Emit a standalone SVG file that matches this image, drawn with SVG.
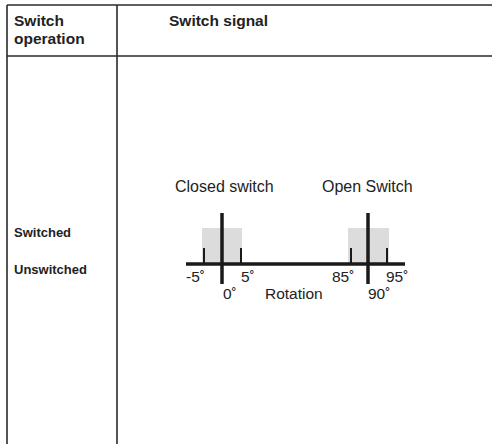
<svg xmlns="http://www.w3.org/2000/svg" width="492" height="444" viewBox="0 0 492 444">
<style>
.grid{stroke:#2a2a2a;stroke-width:1.6;fill:none}
.hd{font-family:"Liberation Sans",Arial,sans-serif;font-weight:bold;font-size:15.5px;fill:#222}
.lb{font-family:"Liberation Sans",Arial,sans-serif;font-weight:bold;font-size:13px;fill:#222}
.tx{font-family:"Liberation Sans",Arial,sans-serif;font-size:15.5px;fill:#222}
.tt{font-family:"Liberation Sans",Arial,sans-serif;font-size:16px;fill:#222}
.bar{stroke:#1a1a1a;stroke-width:3.5;fill:none}
.tick{stroke:#1a1a1a;stroke-width:2;fill:none}
.win{fill:#dcdcdc}
</style>
<rect width="492" height="444" fill="#fff"/>
<g id="table">
<line class="grid" x1="7" y1="5" x2="492" y2="5"/>
<line class="grid" x1="7" y1="56" x2="492" y2="56"/>
<line class="grid" x1="7" y1="5" x2="7" y2="444"/>
<line class="grid" x1="117" y1="5" x2="117" y2="444"/>
<text class="hd" x="14" y="25.5">Switch</text>
<text class="hd" x="14" y="43.5">operation</text>
<text class="hd" x="169" y="25.5">Switch signal</text>
<text class="lb" x="14" y="237">Switched</text>
<text class="lb" x="14" y="274">Unswitched</text>
</g>
<g id="closed-window">
<rect class="win" x="202" y="228" width="40" height="36"/>
<line class="tick" x1="204" y1="248" x2="204" y2="264"/>
<line class="tick" x1="241" y1="248" x2="241" y2="264"/>
<line class="bar" x1="222" y1="213" x2="222" y2="284"/>
<text class="tt" x="175" y="192">Closed switch</text>
</g>
<g id="open-window">
<rect class="win" x="348" y="228" width="41" height="36"/>
<line class="tick" x1="351" y1="248" x2="351" y2="264"/>
<line class="tick" x1="387" y1="248" x2="387" y2="264"/>
<line class="bar" x1="368" y1="213" x2="368" y2="284"/>
<text class="tt" x="322" y="192">Open Switch</text>
</g>
<g id="connectors">
<line class="bar" x1="186" y1="264" x2="405" y2="264"/>
</g>
<g id="labels">
<text class="tx" x="186" y="282">-5˚</text>
<text class="tx" x="241" y="282">5˚</text>
<text class="tx" x="223" y="299">0˚</text>
<text class="tx" x="265" y="299">Rotation</text>
<text class="tx" x="332" y="282">85˚</text>
<text class="tx" x="386" y="282">95˚</text>
<text class="tx" x="368" y="299">90˚</text>
</g>
</svg>
